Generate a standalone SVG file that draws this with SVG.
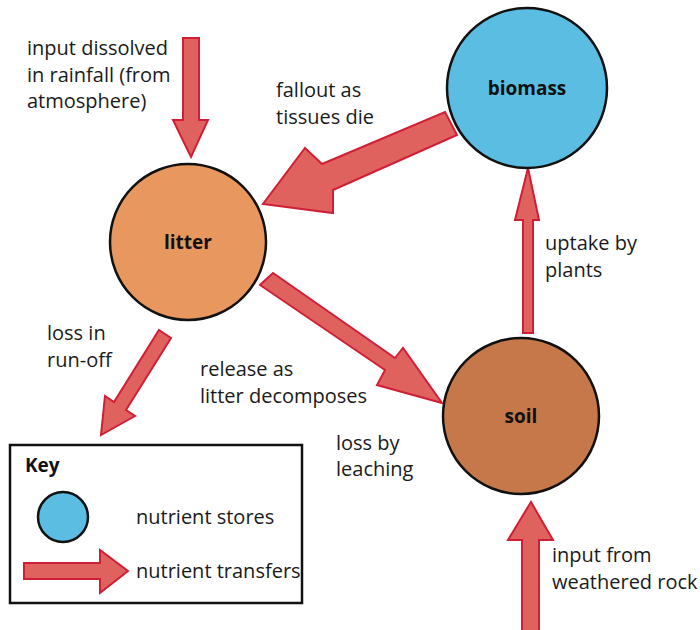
<svg xmlns="http://www.w3.org/2000/svg" width="700" height="630" viewBox="0 0 700 630">
<style>
.t{font-family:"Open Sans","Noto Sans",sans-serif;font-size:20px;fill:#1a1a1a}
.b{font-family:"Open Sans","Noto Sans",sans-serif;font-size:19px;font-weight:bold;fill:#111;text-anchor:middle}
.store{stroke:#111;stroke-width:2.5}
.arr{fill:#e0625f;stroke:#cf1f36;stroke-width:2;stroke-linejoin:miter}
</style>
<rect width="700" height="630" fill="#fff"/>
<g id="connectors">
<polygon class="arr" points="183,38 199,38 199,120 208,120 191,157 173,120 183,120"/>
<polygon class="arr" points="445,112 457,135 333,190 333,213 263,204 305,148 322,164"/>
<polygon class="arr" points="273,273 260,285 385,370 377,385 442,403 403,348 395,358"/>
<polygon class="arr" points="159,330 171,338 126,410 135,416 101,435 105,396 114,402"/>
<polygon class="arr" points="523,333 533,333 533,220 539,220 528,168 515,220 523,220"/>
<polygon class="arr" points="522,640 539,640 539,540 553,540 531,502 508,540 522,540"/>
</g>
<g id="biomass"><circle class="store" cx="527" cy="88" r="80" fill="#5bbde2"/><text class="b" x="527" y="95">biomass</text></g>
<g id="litter"><circle class="store" cx="188" cy="242" r="78" fill="#e8975f"/><text class="b" x="188" y="249">litter</text></g>
<g id="soil"><circle class="store" cx="521" cy="416" r="78" fill="#c6784a"/><text class="b" x="521" y="423">soil</text></g>
<g id="labels">
<text class="t" x="27" y="55">input dissolved</text>
<text class="t" x="27" y="82">in rainfall (from</text>
<text class="t" x="27" y="108">atmosphere)</text>
<text class="t" x="276" y="97">fallout as</text>
<text class="t" x="276" y="124">tissues die</text>
<text class="t" x="545" y="250">uptake by</text>
<text class="t" x="545" y="277">plants</text>
<text class="t" x="47" y="340">loss in</text>
<text class="t" x="47" y="367">run-off</text>
<text class="t" x="200" y="376">release as</text>
<text class="t" x="200" y="403">litter decomposes</text>
<text class="t" x="336" y="450">loss by</text>
<text class="t" x="336" y="476">leaching</text>
<text class="t" x="552" y="562">input from</text>
<text class="t" x="552" y="589">weathered rock</text>
</g>
<g id="key">
<rect x="10" y="445" width="292" height="158" fill="#fff" stroke="#111" stroke-width="2.5"/>
<text x="25" y="472" style="font-family:'Open Sans','Noto Sans',sans-serif;font-size:19px;font-weight:bold;fill:#111">Key</text>
<circle class="store" cx="63" cy="517" r="25" fill="#5bbde2"/>
<text class="t" x="136" y="524">nutrient stores</text>
<polygon class="arr" points="24,563 100,563 100,550 128,571 100,593 100,579 24,579"/>
<text class="t" x="136" y="578">nutrient transfers</text>
</g>
</svg>
